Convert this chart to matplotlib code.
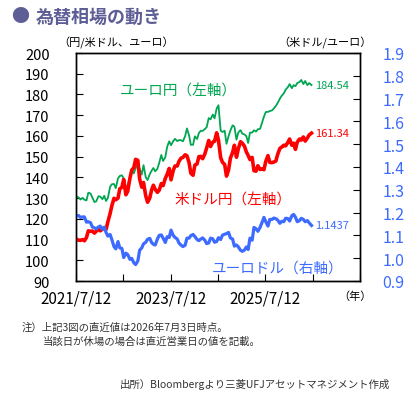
import pandas as pd
import matplotlib
matplotlib.use("Agg")
import matplotlib.pyplot as plt
import matplotlib.dates as mdates
import matplotlib.ticker as mticker

plt.rcParams["font.family"] = ["Noto Sans CJK JP", "DejaVu Sans"]

# ─── Data (semi-monthly readings, 1st and 15th) ────────────────────────────────

DATES = (["2021-07-12"]
         + [d.strftime("%Y-%m-%d") for d in pd.date_range("2021-08-01", "2026-06-15", freq="SMS")]
         + ["2026-07-03"])

USDJPY = [
    110.3,
    109.7, 109.6, 110.0, 109.4, 111.0, 114.2, 114.0, 114.1, 113.1, 114.0,             # 2021
    115.1, 114.2, 115.0, 115.5, 114.9, 118.6, 122.5, 126.4, 129.9, 129.2, 130.0, 134.5,
    135.2, 139.0, 131.6, 133.3, 139.6, 143.5, 144.7, 148.7, 148.2, 139.2, 135.3, 137.5,  # 2022
    131.1, 128.0, 130.0, 133.9, 136.2, 134.2, 132.8, 133.8, 137.0, 136.0, 139.5, 141.5,
    144.3, 138.8, 143.3, 145.5, 145.5, 147.8, 149.3, 149.6, 150.9, 150.4, 147.2, 142.0,  # 2023
    141.0, 145.9, 146.5, 150.0, 150.1, 149.0, 151.3, 154.2, 157.8, 154.9, 157.0, 157.4,
    161.5, 158.0, 149.5, 147.3, 146.2, 140.6, 143.6, 149.2, 152.0, 155.5, 149.7, 153.7,  # 2024
    157.2, 156.5, 155.0, 152.3, 150.6, 148.6, 149.6, 143.2, 143.0, 145.6, 143.8, 144.1,
    143.7, 147.7, 150.5, 147.2, 147.1, 147.4, 147.9, 151.1, 154.0, 154.6, 155.5, 155.2,  # 2025
    156.8, 158.5, 155.5, 156.5, 153.5, 157.0, 158.5, 158.0, 159.5, 157.5, 159.0, 160.5,  # 2026
    161.34,
]

EURJPY = [
    130.9,
    130.3, 129.3, 130.1, 129.2, 128.9, 132.6, 132.2, 130.3, 128.1, 128.4,             # 2021
    130.9, 130.7, 129.5, 131.1, 128.6, 130.1, 135.4, 136.7, 136.8, 134.8, 139.5, 140.7,
    141.0, 139.4, 134.3, 136.5, 139.5, 143.5, 141.9, 144.4, 146.5, 144.2, 141.3, 145.9,  # 2022
    140.1, 138.7, 141.5, 143.2, 144.5, 142.9, 144.1, 147.0, 150.8, 147.9, 149.7, 154.7,
    157.4, 155.5, 157.5, 158.6, 157.5, 158.0, 157.9, 157.4, 159.9, 163.6, 160.3, 155.7,  # 2023
    155.7, 159.8, 158.5, 161.4, 162.5, 162.4, 163.3, 164.2, 168.6, 168.0, 170.3, 168.5,
    173.2, 174.8, 162.5, 161.9, 162.5, 156.2, 159.9, 162.6, 165.1, 164.4, 158.2, 161.6,  # 2024
    162.8, 161.1, 160.7, 159.9, 156.6, 161.6, 161.6, 162.7, 162.1, 163.2, 163.4, 166.1,
    169.3, 171.5, 171.6, 172.0, 172.3, 173.2, 174.5, 175.9, 178.0, 179.4, 180.5, 182.3,  # 2025
    183.5, 185.0, 183.0, 184.5, 184.0, 185.5, 186.0, 187.0, 185.0, 186.5, 184.5, 185.5,  # 2026
    184.54,
]

EURUSD = [
    1.187,
    1.187, 1.179, 1.181, 1.181, 1.158, 1.160, 1.156, 1.137, 1.133, 1.129,             # 2021
    1.137, 1.141, 1.127, 1.136, 1.113, 1.097, 1.104, 1.081, 1.051, 1.041, 1.073, 1.045,
    1.043, 1.003, 1.022, 1.016, 0.995, 0.999, 0.980, 0.972, 0.988, 1.035, 1.045, 1.063,  # 2022
    1.070, 1.083, 1.087, 1.069, 1.061, 1.058, 1.084, 1.100, 1.102, 1.088, 1.069, 1.094,
    1.091, 1.123, 1.100, 1.091, 1.084, 1.066, 1.057, 1.051, 1.057, 1.088, 1.088, 1.099,  # 2023
    1.104, 1.095, 1.082, 1.077, 1.084, 1.089, 1.079, 1.064, 1.067, 1.088, 1.085, 1.070,
    1.073, 1.090, 1.082, 1.101, 1.105, 1.108, 1.113, 1.089, 1.084, 1.053, 1.058, 1.050,  # 2024
    1.035, 1.030, 1.036, 1.049, 1.038, 1.088, 1.079, 1.135, 1.129, 1.118, 1.135, 1.155,
    1.179, 1.160, 1.141, 1.170, 1.170, 1.176, 1.173, 1.167, 1.153, 1.162, 1.160, 1.175,  # 2025
    1.174, 1.163, 1.186, 1.192, 1.180, 1.160, 1.165, 1.175, 1.170, 1.160, 1.165, 1.155,  # 2026
    1.1437,
]

LEFT_TICKS = list(range(90, 201, 10))
RIGHT_TICKS = [0.9, 1.0, 1.1, 1.2, 1.3, 1.4, 1.5, 1.6, 1.7, 1.8, 1.9]
X_TICKS = ["2021-07-12", "2022-07-12", "2023-07-12", "2024-07-12",
           "2025-07-12", "2026-07-12", "2027-07-12"]
X_LABELS = ["2021/7/12", "", "2023/7/12", "", "2025/7/12", "", ""]

GREEN = "#00a650"
RED = "#ff0000"
BLUE = "#3d6bff"
TITLE_COLOR = "#5e5e96"

# ─── Plot ──────────────────────────────────────────────────────────────────────

dates = pd.to_datetime(DATES)

fig = plt.figure(figsize=(4.07, 4.02), dpi=100, facecolor="white")
ax = fig.add_axes([76 / 407, 1 - 282 / 402, 284 / 407, 228 / 402])
ax2 = ax.twinx()

ax.plot(dates, EURJPY, color=GREEN, linewidth=1.3, zorder=3)
ax.plot(dates, USDJPY, color=RED, linewidth=2.6, zorder=4)
ax2.plot(dates, EURUSD, color=BLUE, linewidth=2.3)

ax.set_ylim(90, 200)
ax2.set_ylim(0.9, 1.9)
ax.set_xlim(pd.Timestamp(X_TICKS[0]), pd.Timestamp(X_TICKS[-1]))

ax.set_yticks(LEFT_TICKS)
ax2.set_yticks(RIGHT_TICKS)
ax2.yaxis.set_major_formatter(mticker.FormatStrFormatter("%.1f"))
ax.set_xticks(pd.to_datetime(X_TICKS))
ax.set_xticklabels(X_LABELS)

ax.tick_params(axis="y", direction="in", length=5, pad=19, labelsize=10.5, colors="black")
ax.tick_params(axis="x", direction="in", length=5, pad=6, labelsize=11)
ax2.tick_params(axis="y", direction="in", length=5, pad=16, labelsize=11.5,
                labelcolor=BLUE, color="black")

for a in (ax, ax2):
    for s in a.spines.values():
        s.set_linewidth(1.0)
        s.set_color("black")

# End values
ax.text(pd.Timestamp("2026-08-01"), EURJPY[-1], f"{EURJPY[-1]:.2f}", color=GREEN,
        fontsize=8, va="center", ha="left")
ax.text(pd.Timestamp("2026-08-01"), USDJPY[-1], f"{USDJPY[-1]:.2f}", color=RED,
        fontsize=8, va="center", ha="left")
ax2.text(pd.Timestamp("2026-08-01"), EURUSD[-1], f"{EURUSD[-1]:.4f}", color=BLUE,
         fontsize=8, va="center", ha="left")

# Series labels
ax.text(0.155, 0.835, "ユーロ円（左軸）", transform=ax.transAxes, color=GREEN, fontsize=10.5,
        va="center")
ax.text(0.345, 0.355, "米ドル円（左軸）", transform=ax.transAxes, color=RED, fontsize=10.5,
        va="center")
ax.text(0.48, 0.057, "ユーロドル（右軸）", transform=ax.transAxes, color=BLUE, fontsize=10.5,
        va="center")

# Title and axis captions
fig.text(20 / 407, 1 - 17 / 402, "●", color=TITLE_COLOR, fontsize=13, ha="center", va="center")
fig.text(36 / 407, 1 - 17 / 402, "為替相場の動き", color=TITLE_COLOR, fontsize=13,
         fontweight="bold", ha="left", va="center")
fig.text(58 / 407, 1 - 43 / 402, "（円/米ドル、ユーロ）", fontsize=8, ha="left", va="center")
fig.text(372 / 407, 1 - 43 / 402, "（米ドル/ユーロ）", fontsize=8, ha="right", va="center")
fig.text(372 / 407, 1 - 297 / 402, "（年）", fontsize=8, ha="right", va="center")

# Notes
fig.text(22 / 407, 1 - 328 / 402, "注）上記3図の直近値は2026年7月3日時点。", fontsize=7.5,
         color="#333333", ha="left", va="center")
fig.text(43 / 407, 1 - 342 / 402, "当該日が休場の場合は直近営業日の値を記載。", fontsize=7.5,
         color="#333333", ha="left", va="center")
fig.text(390 / 407, 1 - 385 / 402, "出所）Bloombergより三菱UFJアセットマネジメント作成",
         fontsize=7.5, color="#333333", ha="right", va="center")

fig.savefig("out.png", dpi=100)
